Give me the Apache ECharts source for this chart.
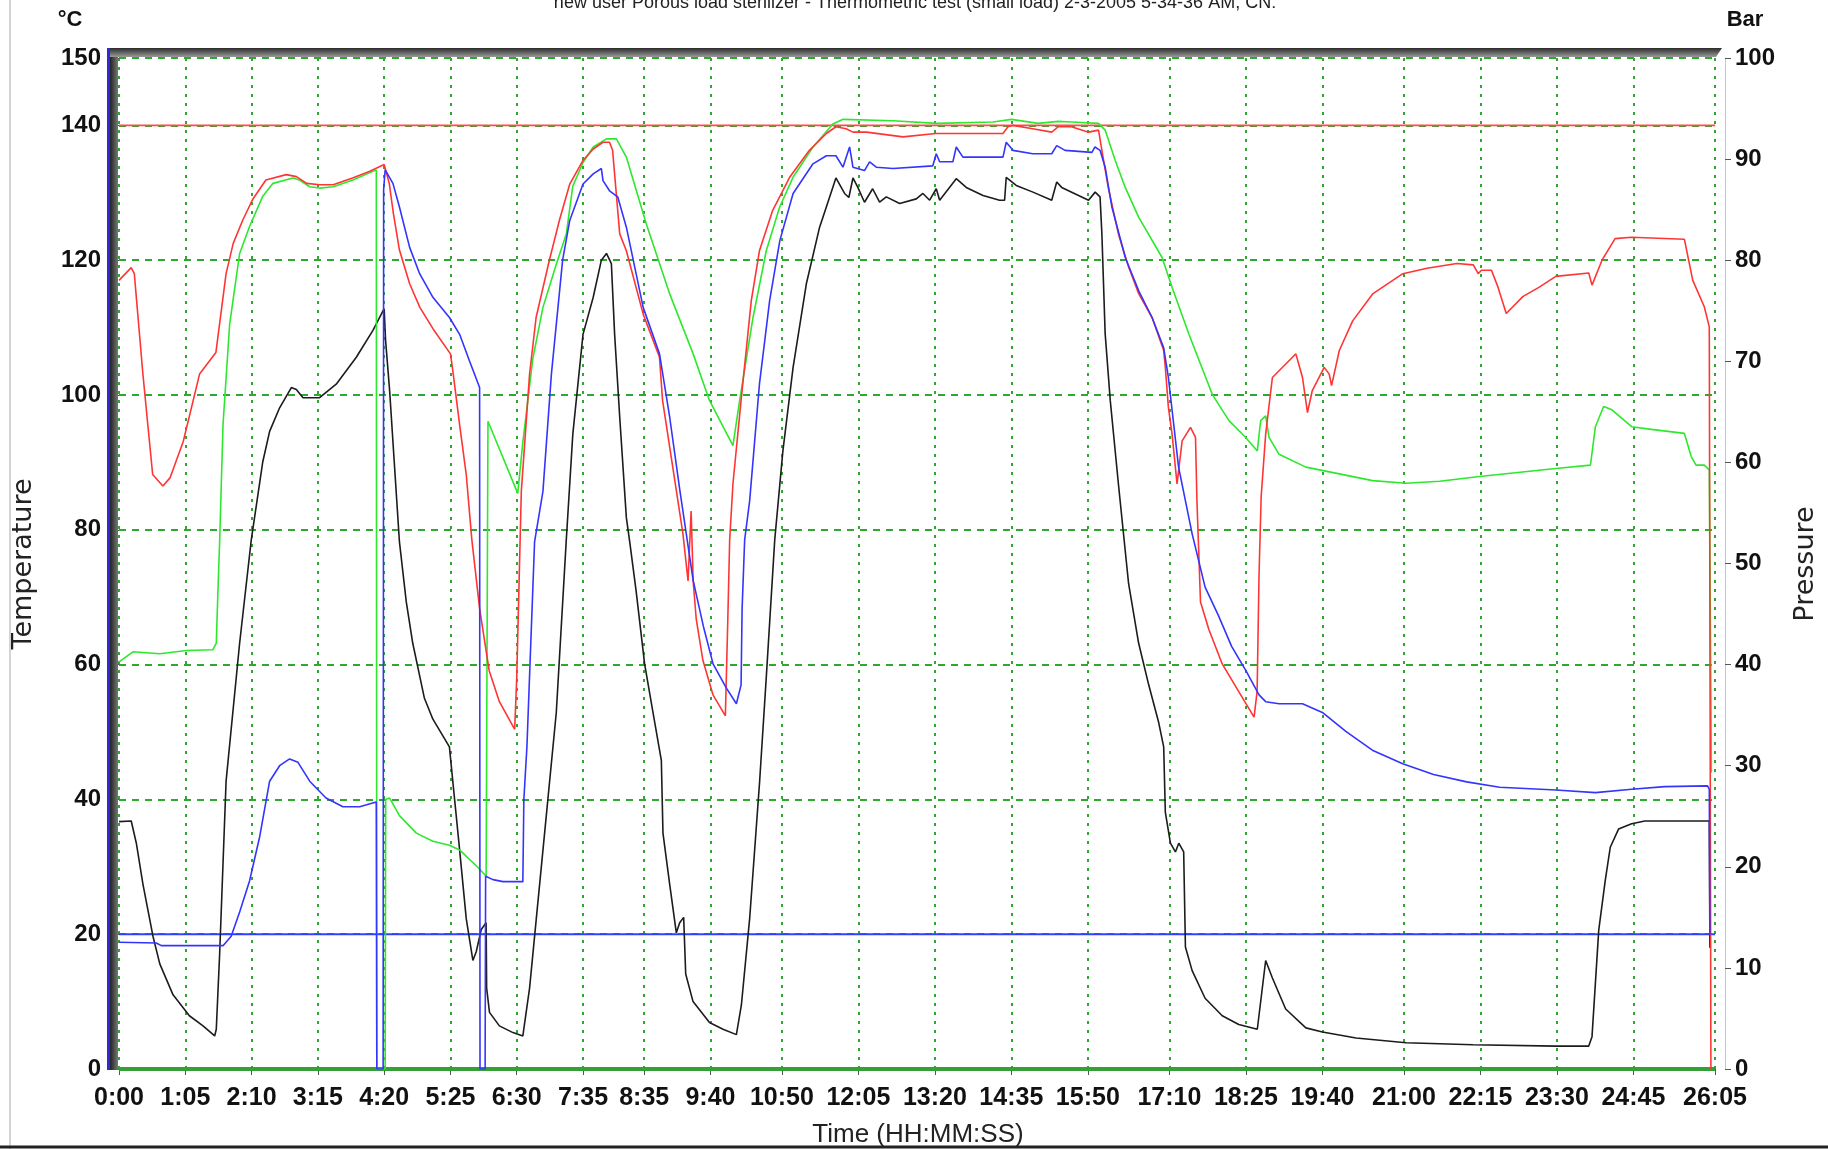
<!DOCTYPE html>
<html>
<head>
<meta charset="utf-8">
<title>Porous load sterilizer - Thermometric test</title>
<script src="https://cdn.jsdelivr.net/npm/echarts@6/dist/echarts.min.js"></script>
<style>
html, body { margin: 0; padding: 0; background: #fff; }
#main { width: 1828px; height: 1149px; }
</style>
</head>
<body>
<div id="main"></div>
<script type="text/javascript">
// time axis: tick positions in seconds and the labels printed under them
var tickSeconds = [0, 65, 130, 195, 260, 325, 390, 455, 515, 580, 650, 725, 800, 875, 950, 1030, 1105, 1180, 1260, 1335, 1410, 1485, 1565];
var tickLabels = ['0:00', '1:05', '2:10', '3:15', '4:20', '5:25', '6:30', '7:35', '8:35', '9:40', '10:50', '12:05', '13:20', '14:35', '15:50', '17:10', '18:25', '19:40', '21:00', '22:15', '23:30', '24:45', '26:05'];
var endTime = 1565;

// reference lines
var setpointLine = [[0, 140], [endTime, 140]];
var lowLimitLine = [[0, 20], [endTime, 20]];
var pressureBar = [[0, 0], [endTime, 0]];

// probes [seconds, degC]
var redProbe = [[0,117],[12,118.9],[15,118],[23.5,103],[33,88.2],[43,86.5],[50,87.7],[63,93.1],[79,103.1],[95,106.3],[105,118],[112,122.5],[121.5,126],[131,129],[144,131.9],[164,132.7],[174,132.4],[184,131.4],[197,131.2],[210,131.2],[229,132.2],[246,133.2],[260,134.2],[265,131.4],[269,127],[275,121.5],[285,116.5],[295,113],[308,109.8],[325,106.1],[327,104],[334,95.6],[340.5,88.2],[346,78.5],[353.6,68.3],[363,59.1],[373,54.5],[388,50.4],[390,58],[394.5,85.7],[402.6,103.1],[409,111.5],[422,120],[432,126],[442,131.3],[455,134.8],[465,136.5],[474.6,137.5],[481,137.5],[484,136.3],[491,123.9],[497.5,121.4],[514,112],[530,105.6],[533,99.2],[543,89.3],[553,79.4],[558,72.4],[561,82.8],[563,72.4],[566,66.8],[572.6,60.6],[582.5,55.5],[594.6,52.4],[597,66.8],[598.8,78.5],[602,86.8],[610,99.2],[620,114],[628,121.4],[641,127.4],[657.6,132.3],[677,136.3],[693.6,138.8],[703,139.8],[713,139.5],[719.7,139],[733,139],[768.7,138.3],[801,138.8],[866.8,138.8],[871.7,139.8],[876.6,140],[896,139.5],[914.6,139],[921,139.8],[934,139.8],[950.7,139],[960.5,139.3],[963.8,136.3],[970,130.8],[980,123.9],[990,119],[1000,115],[1013,111.5],[1024.4,106.6],[1026,104.1],[1029,98.2],[1032.6,94.2],[1037.5,86.8],[1042.5,93.2],[1050.7,95.2],[1055.6,93.7],[1057,84.3],[1060.5,69.3],[1068.7,65.2],[1081.8,60.1],[1098,56],[1113,52.2],[1116,56],[1117.9,73.4],[1120,85],[1124.4,94.2],[1131,102.6],[1150.7,105.6],[1154,106.1],[1160.5,102.6],[1165.4,97.4],[1170,100.6],[1181.8,104.1],[1186.7,103.1],[1189,101.4],[1196.6,106.6],[1209.7,111],[1229.3,115],[1258.9,118],[1282.7,118.8],[1311.8,119.5],[1328,119.3],[1332.8,118],[1336,118.5],[1345.8,118.5],[1352.2,116],[1360.3,112.1],[1376.5,114.6],[1392.7,116],[1408.9,117.6],[1441.2,118.1],[1444.4,116.3],[1454.2,120],[1467,123.2],[1483.2,123.4],[1535,123.1],[1543.2,117],[1554.5,113.1],[1559.4,110.1],[1561,0]];

var greenProbe = [[0,60.4],[13.7,61.9],[40,61.6],[66,62.1],[92,62.2],[95.4,63.2],[97,70.8],[98.7,78.3],[102,95.6],[108.5,110.5],[118.3,121],[128,125],[141,129.5],[151,131.4],[170.6,132.2],[177,131.9],[187,130.9],[196.7,130.7],[210,130.9],[229.4,131.9],[252.3,133.4],[252.8,0],[261,0],[261.5,40],[265.4,40.2],[275,37.6],[291.5,35],[307.8,33.8],[324,33.2],[334,32.5],[352,29.9],[360,28.6],[361.8,96.1],[391,85.4],[396,93],[405.8,105.4],[415.7,113],[428.8,119.4],[438.6,123.9],[445,131],[455,134.5],[465,136.8],[478,138],[487.7,138],[497.5,135.3],[517,125.4],[540,115],[563,106.1],[579,99.2],[602,92.5],[608.6,99.2],[621.7,111.5],[634.7,121.4],[647.8,127.9],[660.9,132.3],[680.5,136.8],[700,140.2],[710,140.9],[759,140.7],[801.4,140.3],[857,140.5],[875,140.9],[901.5,140.3],[921,140.6],[934,140.5],[960.5,140.3],[967,139.3],[976.9,134.8],[986.7,130.8],[999.8,126.4],[1022.8,120.4],[1032.6,116],[1049,109.1],[1072,100.1],[1088.4,96.2],[1104.8,93.7],[1116.2,91.7],[1119.5,96.2],[1124.4,96.9],[1127.7,93.7],[1137.5,91.2],[1163.8,89.3],[1196.6,88.3],[1229.3,87.3],[1262,86.9],[1295,87.2],[1334,87.9],[1408.9,89.1],[1442.9,89.6],[1447.7,95.3],[1455.8,98.3],[1463.9,97.8],[1483.3,95.3],[1502.7,94.9],[1535,94.3],[1541.6,90.9],[1546.4,89.6],[1554.5,89.6],[1559.4,88.9],[1561,55],[1561.5,44]];

var blueProbe = [[0,18.8],[36.6,18.7],[41.5,18.3],[102,18.3],[110,19.7],[118.3,23.3],[128,27.9],[138,34.5],[147.7,42.7],[157.5,45],[167.3,46],[175.5,45.5],[187,42.7],[203,40.2],[219.6,38.9],[236,38.9],[252.3,39.6],[252.8,0],[259,0],[259.5,130.5],[261,133.4],[268.6,131.4],[275,127.9],[285,121.9],[294.8,118],[307.8,114.5],[324,111.5],[334,109],[343.8,105],[353.6,101.1],[354,0],[359,0],[359.5,28.6],[366.7,28.1],[376.5,27.8],[396,27.8],[397,40],[400,47.8],[407.5,78.2],[415.7,85.7],[424,103.1],[435,120],[442,125.9],[455,131.3],[465,132.8],[473,133.6],[474.6,131.8],[481,130.3],[489,129.4],[497.5,124.9],[514,113],[530,106.1],[540,96.7],[550,85.8],[563,72.5],[573,65.7],[582.5,60.1],[595.6,56.5],[605.4,54.2],[610,57],[611,68.3],[613.5,78.5],[618.4,84.3],[628,101.6],[638,114],[648,122.9],[661,129.9],[680.5,134.3],[693.6,135.5],[703,135.5],[709.9,133.8],[716.4,136.8],[719.7,133.8],[731,133.3],[736,134.6],[742.6,133.8],[759,133.6],[798,134],[801.4,135.8],[804.7,134.6],[817.7,134.6],[821,136.8],[827.5,135.3],[866.8,135.3],[870,137.5],[876.6,136.3],[896,135.8],[914.6,135.8],[919.5,137],[927.7,136.3],[954,136],[957,136.8],[962,136.3],[967,133.8],[973.6,127.9],[986.7,120.4],[999.8,115.5],[1013,111.5],[1024.4,107],[1029,102.6],[1039,89.3],[1052.3,79.4],[1065,71.5],[1078,67.3],[1091,62.7],[1105,59.1],[1117.9,55.5],[1124.4,54.5],[1137.5,54.2],[1160.5,54.2],[1180,52.9],[1203,50.1],[1229,47.3],[1258.8,45.3],[1289,43.7],[1321.5,42.6],[1353.9,41.8],[1408.9,41.4],[1447.7,41],[1483.3,41.5],[1515.7,41.9],[1557.7,42],[1559.4,41.5],[1560,19.9]];

var blackProbe = [[0,36.7],[12,36.8],[17,33.5],[23.5,27.4],[33.3,19.7],[40,15.6],[53,11],[69,7.9],[82.4,6.4],[93.8,4.9],[95.4,5.9],[98.7,17.1],[105,42.7],[118.3,63.2],[129.7,78.5],[141,90.1],[147.7,94.6],[157.5,98.1],[169,101.1],[173.9,100.8],[180.4,99.6],[196.7,99.6],[213,101.6],[232.7,105.6],[249,109.6],[260,112.8],[261.4,108.1],[265.4,100.6],[268.6,93.1],[275,78.2],[281.7,69.3],[288,63.2],[299.5,55],[307.8,51.9],[324,47.8],[327.3,42.7],[334,32.5],[340.5,22.3],[347,16.1],[350.3,17.4],[355.2,20.7],[360,21.7],[360.5,12],[363.3,8.4],[373,6.4],[386.3,5.4],[396,4.9],[402.6,12],[409.2,22.3],[419,37.6],[428.8,52.9],[438.6,78.5],[445,94.2],[455,109],[465,114.5],[473,120],[478,121],[482.8,119.5],[486,109],[491,96.7],[497.5,81.8],[501,78],[507,71],[515.4,60.1],[523.6,52.9],[531.8,45.8],[533.4,35],[540,27.4],[546.5,20.2],[549.8,21.7],[553.7,22.5],[555.7,14.1],[562.9,10],[579,6.9],[592.3,5.9],[605.4,5.1],[610.3,9.5],[618.4,22.3],[628.2,42.7],[634.7,58.1],[643,78.5],[651,91.7],[661,104.1],[674,116.5],[687,124.9],[693.6,127.9],[703,132.2],[711.5,129.9],[715.7,129.3],[719.7,132.2],[724.5,130.8],[731,128.6],[739,130.6],[745.8,128.6],[752.4,129.4],[765.5,128.4],[781.8,129.1],[788.3,129.9],[794.9,128.9],[801.4,130.6],[804.7,128.9],[821,132.1],[830.8,130.8],[847.2,129.6],[863.5,128.9],[868.4,128.9],[870,132.3],[879.8,131.1],[896.2,130.1],[914.6,128.9],[919.5,131.6],[924.4,130.8],[950.7,128.9],[957.2,130.1],[962,129.4],[963.8,123.9],[967,109.1],[972,99.2],[980,86.8],[990,72],[999.8,63.2],[1009.7,57],[1019.5,51.4],[1024.4,47.8],[1026,38.1],[1031,33.5],[1035.9,32.2],[1039.2,33.5],[1044,32.2],[1045.7,18.1],[1052.3,14.6],[1065,10.5],[1081.8,7.9],[1098,6.6],[1116.2,5.9],[1124.4,16.1],[1131,13.5],[1144,8.9],[1163.8,6.1],[1180,5.5],[1213,4.6],[1262,3.9],[1327.7,3.6],[1408.9,3.4],[1441.2,3.4],[1444.4,4.8],[1451,20.6],[1457.4,28],[1462.3,32.9],[1470.4,35.6],[1483.3,36.4],[1496.2,36.8],[1559.4,36.8],[1560,18]];

var gridGreen = '#2ea82e';
var labelFont = { fontFamily: 'Liberation Sans', fontWeight: 'bold', color: '#111' };

function probe(name, data, color) {
    return {
        name: name, type: 'line', data: data, showSymbol: false, symbol: 'none',
        lineStyle: { color: color, width: 1.6 }, silent: true
    };
}

var myChart = echarts.init(document.getElementById('main'));

var option = {
    animation: false,
    backgroundColor: '#fff',
    grid: { left: 119, right: 113, top: 58, bottom: 80, outerBoundsMode: 'none' },
    xAxis: {
        type: 'value', min: 0, max: endTime, offset: 8,
        axisLine: { show: false },
        axisTick: { show: true, customValues: tickSeconds, length: 6, lineStyle: { color: '#555' } },
        axisLabel: {
            customValues: tickSeconds, margin: 9, fontSize: 25,
            fontFamily: labelFont.fontFamily, fontWeight: 'bold', color: '#111',
            formatter: function (v) {
                var i = tickSeconds.indexOf(v);
                return i >= 0 ? tickLabels[i] : '';
            }
        },
        splitLine: { show: true, lineStyle: { color: gridGreen, type: [3, 6], width: 2 } }
    },
    yAxis: [{
        type: 'value', min: 0, max: 150, interval: 20, position: 'left', offset: 14,
        axisLine: { show: false },
        axisTick: { show: true, length: 5, lineStyle: { color: '#555' } },
        axisLabel: { margin: 4, fontSize: 24, fontFamily: labelFont.fontFamily, fontWeight: 'bold', color: '#111' },
        splitLine: { show: true, lineStyle: { color: gridGreen, type: [7, 6], width: 2 } }
    }, {
        type: 'value', min: 0, max: 100, interval: 10, position: 'right', offset: 10,
        axisLine: { show: true, lineStyle: { color: '#c8c8c8', width: 1 } },
        axisTick: { show: true, length: 6, lineStyle: { color: '#555' } },
        axisLabel: { margin: 10, fontSize: 24, fontFamily: labelFont.fontFamily, fontWeight: 'bold', color: '#111' },
        splitLine: { show: false }
    }],
    series: [
        { name: 'Pressure', type: 'line', yAxisIndex: 1, data: pressureBar, showSymbol: false, symbol: 'none',
          lineStyle: { color: '#35a035', width: 4 }, silent: true },
        { name: 'Setpoint', type: 'line', data: setpointLine, showSymbol: false, symbol: 'none',
          lineStyle: { color: '#ff4a4a', width: 1.6 }, silent: true },
        { name: 'Limit', type: 'line', data: lowLimitLine, showSymbol: false, symbol: 'none',
          lineStyle: { color: '#3040ff', width: 2 }, silent: true },
        probe('Probe 4', blackProbe, '#1c1c1c'),
        probe('Probe 3', greenProbe, '#2ee82e'),
        probe('Probe 2', redProbe, '#ff3535'),
        probe('Probe 1', blueProbe, '#3434ff')
    ],
    graphic: [
        { type: 'line', shape: { x1: 10, y1: 0, x2: 10, y2: 1149 }, style: { stroke: '#d4d4d4', lineWidth: 2 } },
        { type: 'line', shape: { x1: 0, y1: 1147, x2: 1828, y2: 1147 }, style: { stroke: '#222', lineWidth: 3 } },
        { type: 'rect', shape: { x: 107, y: 48, width: 3, height: 1022 }, style: { fill: '#2b2bd9' }, z: 10 },
        { type: 'rect', shape: { x: 110, y: 48, width: 8, height: 1022 },
          style: { fill: new echarts.graphic.LinearGradient(0, 0, 1, 0, [{ offset: 0, color: '#222' }, { offset: 1, color: '#777' }]) }, z: 10 },
        { type: 'polygon', shape: { points: [[110, 48], [1722, 48], [1716, 57], [110, 57]] },
          style: { fill: new echarts.graphic.LinearGradient(0, 0, 0, 1, [{ offset: 0, color: '#2a2a2a' }, { offset: 1, color: '#9a9a9a' }]) }, z: 10 },
        { type: 'text', x: 915, y: 3, z: 10,
          style: { text: 'new user Porous load sterilizer - Thermometric test (small load) 2-3-2005 5-34-36 AM, CN:',
                   textAlign: 'center', textVerticalAlign: 'middle', font: '18px "Liberation Sans"', fill: '#222' } },
        { type: 'text', x: 70, y: 20, z: 10,
          style: { text: '°C', textAlign: 'center', textVerticalAlign: 'middle', font: 'bold 22px "Liberation Sans"', fill: '#111' } },
        { type: 'text', x: 1745, y: 20, z: 10,
          style: { text: 'Bar', textAlign: 'center', textVerticalAlign: 'middle', font: 'bold 22px "Liberation Sans"', fill: '#111' } },
        { type: 'text', x: 24, y: 564, rotation: Math.PI / 2, z: 10,
          style: { text: 'Temperature', textAlign: 'center', textVerticalAlign: 'middle', font: '27px "DejaVu Sans"', fill: '#222' } },
        { type: 'text', x: 1806, y: 564, rotation: Math.PI / 2, z: 10,
          style: { text: 'Pressure', textAlign: 'center', textVerticalAlign: 'middle', font: '27px "DejaVu Sans"', fill: '#222' } },
        { type: 'text', x: 918, y: 1135, z: 10,
          style: { text: 'Time (HH:MM:SS)', textAlign: 'center', textVerticalAlign: 'middle', font: '26px "Liberation Sans"', fill: '#222' } }
    ]
};

myChart.setOption(option);
</script>
</body>
</html>
